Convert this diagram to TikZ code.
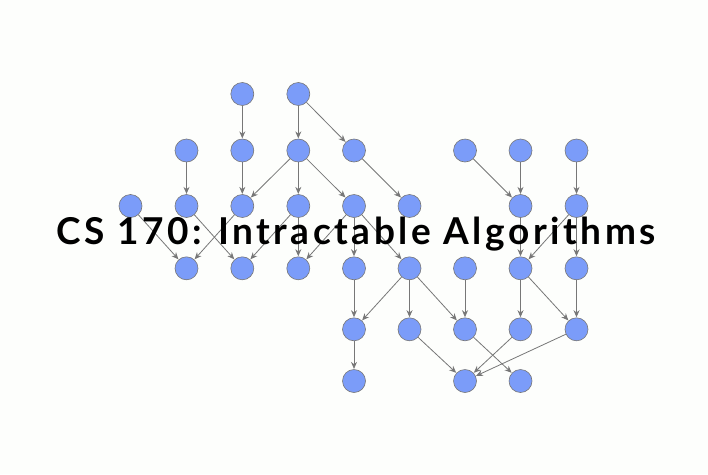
\documentclass[tikz,border=0pt]{standalone}
\usepackage{fontspec}
\setmainfont{Lato}
\newfontfamily\titlefont[LetterSpace=9.5]{Lato Bold}
\usetikzlibrary{arrows.meta}
\definecolor{nodeblue}{HTML}{7B9CF9}
\definecolor{edgegray}{HTML}{777777}
\definecolor{bgcol}{HTML}{FDFEFC}
\tikzset{
  dnode/.style={circle, fill=nodeblue, draw=edgegray, line width=0.6pt, minimum size=23pt, inner sep=0pt},
  dedge/.style={draw=edgegray, line width=0.8pt, -{Stealth[length=7pt,width=6pt]}, shorten >=0.3pt},
}
\begin{document}
\begin{tikzpicture}[x=1pt,y=-1pt]
\fill[bgcol] (0,0) rectangle (708,474);
\useasboundingbox (0,0) rectangle (708,474);
% columns
\def\cA{130.5}\def\cB{186.5}\def\cC{242.3}\def\cD{298.3}\def\cE{354}\def\cF{409.5}\def\cG{465}\def\cH{520.5}\def\cI{576.5}
\def\rA{94}\def\rB{150.5}\def\rC{206}\def\rD{268.3}\def\rE{329.3}\def\rF{381}
% row 1
\node[dnode] (a3) at (\cC,\rA) {};
\node[dnode] (a4) at (\cD,\rA) {};
% row 2
\node[dnode] (b2) at (\cB,\rB) {};
\node[dnode] (b3) at (\cC,\rB) {};
\node[dnode] (b4) at (\cD,\rB) {};
\node[dnode] (b5) at (\cE,\rB) {};
\node[dnode] (b7) at (\cG,\rB) {};
\node[dnode] (b8) at (\cH,\rB) {};
\node[dnode] (b9) at (\cI,\rB) {};
% row 3
\node[dnode] (c1) at (\cA,\rC) {};
\node[dnode] (c2) at (\cB,\rC) {};
\node[dnode] (c3) at (\cC,\rC) {};
\node[dnode] (c4) at (\cD,\rC) {};
\node[dnode] (c5) at (\cE,\rC) {};
\node[dnode] (c6) at (\cF,\rC) {};
\node[dnode] (c8) at (\cH,\rC) {};
\node[dnode] (c9) at (\cI,\rC) {};
% row 4
\node[dnode] (d2) at (\cB,\rD) {};
\node[dnode] (d3) at (\cC,\rD) {};
\node[dnode] (d4) at (\cD,\rD) {};
\node[dnode] (d5) at (\cE,\rD) {};
\node[dnode] (d6) at (\cF,\rD) {};
\node[dnode] (d7) at (\cG,\rD) {};
\node[dnode] (d8) at (\cH,\rD) {};
\node[dnode] (d9) at (\cI,\rD) {};
% row 5
\node[dnode] (e5) at (\cE,\rE) {};
\node[dnode] (e6) at (\cF,\rE) {};
\node[dnode] (e7) at (\cG,\rE) {};
\node[dnode] (e8) at (\cH,\rE) {};
\node[dnode] (e9) at (\cI,\rE) {};
% row 6
\node[dnode] (f5) at (\cE,\rF) {};
\node[dnode] (f7) at (\cG,\rF) {};
\node[dnode] (f8) at (\cH,\rF) {};
% edges
\foreach \s/\t in {a3/b3,a4/b4,a4/b5,
  b2/c2,b3/c3,b4/c3,b4/c4,b4/c5,b5/c6,b7/c8,b8/c8,b9/c9,
  c1/d2,c2/d3,c3/d2,c4/d3,c4/d4,c5/d4,c5/d5,c5/d6,c8/d8,c9/d8,c9/d9,
  d5/e5,d6/e5,d6/e6,d6/e7,d7/e7,d8/e8,d8/e9,d9/e9,
  e5/f5,e6/f7,e7/f8,e8/f7,e9/f7}
  \draw[dedge] (\s) -- (\t);
% title
\node[font=\titlefont\fontsize{37}{44}\selectfont, text=black, inner sep=0pt, anchor=base] (title) at (356,244) {CS 170: Intractable Algorithms};
\end{tikzpicture}
\end{document}
